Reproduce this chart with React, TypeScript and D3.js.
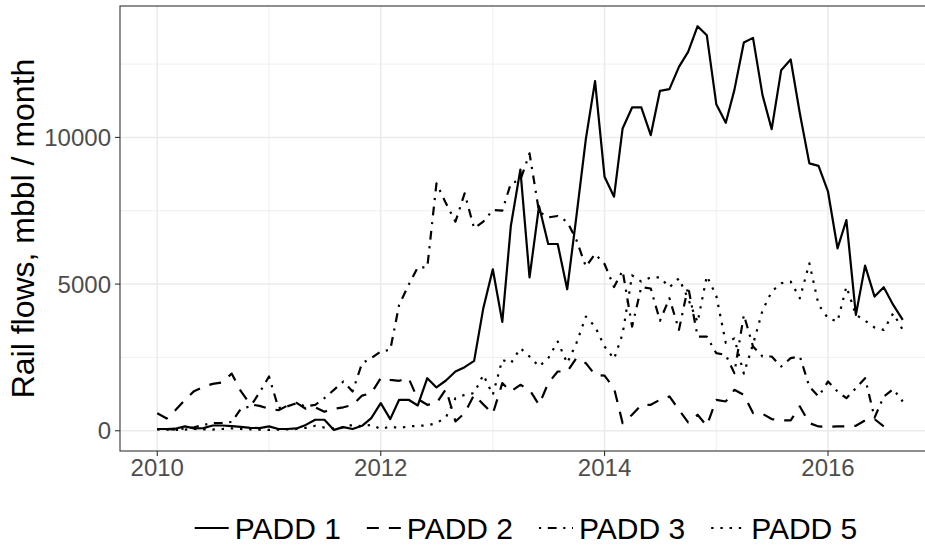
import React, { useEffect, useRef } from "react";
import * as d3 from "d3";

// monthly, Jan 2010 .. Sep 2016
const months = d3.timeMonth.range(new Date(2010, 0, 1), new Date(2016, 9, 1));

const padd1 = [
  60, 60, 70, 150, 80, 90, 180, 180, 160, 130, 100, 90,
  150, 60, 60, 80, 200, 375, 375, 30, 125, 60, 170, 431,
  942, 397, 1056, 1056, 863, 1793, 1476, 1714, 2020, 2168, 2384, 4180,
  5505, 3711, 6990, 8900, 5230, 7661, 6367, 6367, 4824, 7300, 9950, 11918,
  8660, 7979, 10306, 11021, 11021, 10079, 11589, 11645, 12406, 12916, 13790, 13484,
  11134, 10499, 11611, 13234, 13393, 11441, 10280, 12292, 12655, 10816, 9114, 9030,
  8149, 6220, 7184, 3950, 5630, 4574, 4892, 4290, 3780,
];

const padd2 = [
  600, 420, 700, 1050, 1350, 1500, 1600, 1650, 1950, 1350, 900, 850,
  750, 700, 850, 950, 750, 800, 650, 750, 800, 880, 1200, 1280,
  1793, 1737, 1703, 1793, 1078, 885, 942, 1419, 318, 602, 1226, 900,
  579, 1623, 1339, 1566, 1396, 885, 1623, 2020, 2020, 2474, 2304, 1907,
  1880, 1453, 261, 545, 885, 885, 1056, 1169, 715, 284, 545, 170,
  1056, 999, 1396, 1226, 602, 579, 400, 352, 352, 829, 261, 148,
  130, 148, 148, 170, 352, 397, 150,
];

const padd3 = [
  50, 60, 40, 80, 120, 200, 260, 270, 300, 750, 830, 1300,
  1850, 772, 828, 942, 828, 885, 1112, 1396, 1680, 1339, 2304, 2474,
  2701, 2758, 4290, 4971, 5573, 5573, 8433, 7752, 7128, 8093, 6900, 7128,
  7525, 7502, 8433, 8547, 9455, 7468, 7275, 7321, 7128, 6504, 5596, 6027,
  5686, 4900, 5459, 3553, 4900, 4850, 3750, 4517, 3439, 4915, 3212, 3212,
  2645, 2588, 1964, 3950, 2872, 2531, 2531, 2190, 2474, 2531, 1510, 1170,
  1680, 1339, 1112, 1453, 1793, 450, 1169, 1419, 999,
];

const padd5 = [
  50, 40, 30, 40, 60, 50, 40, 60, 80, 60, 50, 40,
  30, 40, 50, 60, 100, 170, 110, 80, 120, 200, 150, 204,
  57, 147, 91, 147, 170, 182, 261, 465, 1112, 1226, 1283, 1907,
  1226, 2418, 2304, 2815, 2531, 2191, 2474, 3042, 2304, 2985, 3893, 3553,
  2872, 2450, 3300, 5300, 5085, 5232, 5232, 4892, 5198, 4500, 3700, 5278,
  4600, 3000, 3150, 1950, 2950, 4100, 4744, 5028, 5085, 4517, 5709, 4300,
  3836, 3723, 4914, 3950, 3757, 3519, 3439, 4007, 3439,
];

const seriesNames = ["PADD 1", "PADD 2", "PADD 3", "PADD 5"];
const seriesValues = [padd1, padd2, padd3, padd5];
const dashes = ["none", "12 10", "2.2 6.6 8.8 6.6", "2.4 6.8"];

const yTicks = [0, 5000, 10000];
const yMinor = [2500, 7500, 12500];
const xTickYears = [2010, 2012, 2014, 2016];
const xMinorYears = [2011, 2013, 2015];

const FONT = "'Liberation Sans', Arial, sans-serif";

export default function App() {
  const ref = useRef<SVGSVGElement>(null);

  useEffect(() => {
    const svg = d3.select(ref.current);
    svg.selectAll("*").remove();

    const width = 925;
    const height = 555;
    const panel = { left: 120, top: 6, right: 940, bottom: 451 };

    const allVals = seriesValues.flat();
    const vmax = d3.max(allVals)!;
    const vmin = 0;
    const padY = (vmax - vmin) * 0.05;

    const t0 = months[0].getTime();
    const t1 = months[months.length - 1].getTime();
    const padX = (t1 - t0) * 0.05;

    const x = d3
      .scaleTime()
      .domain([new Date(t0 - padX), new Date(t1 + padX)])
      .range([panel.left, panel.right]);
    const y = d3
      .scaleLinear()
      .domain([vmin - padY, vmax + padY])
      .range([panel.bottom, panel.top]);

    svg.attr("width", width).attr("height", height);
    svg.append("rect").attr("width", width).attr("height", height).attr("fill", "#fff");

    // grid: minor first, then major
    const grid = svg.append("g");
    const hLine = (vals: number[], w: number) =>
      grid
        .selectAll(null)
        .data(vals)
        .enter()
        .append("line")
        .attr("x1", panel.left)
        .attr("x2", panel.right)
        .attr("y1", (d) => y(d))
        .attr("y2", (d) => y(d))
        .attr("stroke", "#ebebeb")
        .attr("stroke-width", w);
    const vLine = (years: number[], w: number) =>
      grid
        .selectAll(null)
        .data(years)
        .enter()
        .append("line")
        .attr("x1", (d) => x(new Date(d, 0, 1)))
        .attr("x2", (d) => x(new Date(d, 0, 1)))
        .attr("y1", panel.top)
        .attr("y2", panel.bottom)
        .attr("stroke", "#ebebeb")
        .attr("stroke-width", w);
    hLine(yMinor, 0.8);
    vLine(xMinorYears, 0.8);
    hLine(yTicks, 1.5);
    vLine(xTickYears, 1.5);

    // series
    const line = d3
      .line<number>()
      .x((_, i) => x(months[i]))
      .y((d) => y(d));

    seriesValues.forEach((vals, k) => {
      svg
        .append("path")
        .datum(vals)
        .attr("d", line)
        .attr("fill", "none")
        .attr("stroke", "#000")
        .attr("stroke-width", 2.2)
        .attr("stroke-linejoin", "round")
        .attr("stroke-dasharray", dashes[k]);
    });

    // panel border
    svg
      .append("rect")
      .attr("x", panel.left)
      .attr("y", panel.top)
      .attr("width", panel.right - panel.left)
      .attr("height", panel.bottom - panel.top)
      .attr("fill", "none")
      .attr("stroke", "#333")
      .attr("stroke-width", 1.1);

    // y axis
    const yAx = svg.append("g");
    yTicks.forEach((v) => {
      yAx
        .append("line")
        .attr("x1", panel.left - 5)
        .attr("x2", panel.left)
        .attr("y1", y(v))
        .attr("y2", y(v))
        .attr("stroke", "#333")
        .attr("stroke-width", 1.1);
      yAx
        .append("text")
        .attr("x", panel.left - 9)
        .attr("y", y(v))
        .attr("dy", "0.36em")
        .attr("text-anchor", "end")
        .attr("font-family", FONT)
        .attr("font-size", 24)
        .attr("fill", "#4d4d4d")
        .text(String(v));
    });

    // x axis
    const xAx = svg.append("g");
    xTickYears.forEach((yr) => {
      const px = x(new Date(yr, 0, 1));
      xAx
        .append("line")
        .attr("x1", px)
        .attr("x2", px)
        .attr("y1", panel.bottom)
        .attr("y2", panel.bottom + 5)
        .attr("stroke", "#333")
        .attr("stroke-width", 1.1);
      xAx
        .append("text")
        .attr("x", px)
        .attr("y", panel.bottom + 25)
        .attr("text-anchor", "middle")
        .attr("font-family", FONT)
        .attr("font-size", 24)
        .attr("fill", "#4d4d4d")
        .text(String(yr));
    });

    // y title
    svg
      .append("text")
      .attr("transform", `translate(34, ${(panel.top + panel.bottom) / 2}) rotate(-90)`)
      .attr("text-anchor", "middle")
      .attr("font-family", FONT)
      .attr("font-size", 32)
      .attr("fill", "#000")
      .text("Rail flows, mbbl / month");

    // legend
    const legend = svg.append("g");
    const keyW = 34;
    const legY = 528;
    const items = seriesNames.map((name, k) => {
      const g = legend.append("g");
      g.append("line")
        .attr("x1", 0)
        .attr("x2", keyW)
        .attr("y1", 0)
        .attr("y2", 0)
        .attr("stroke", "#000")
        .attr("stroke-width", 2.2)
        .attr("stroke-dasharray", dashes[k]);
      const txt = g
        .append("text")
        .attr("x", keyW + 6)
        .attr("y", 0)
        .attr("dy", "0.36em")
        .attr("font-family", FONT)
        .attr("font-size", 30)
        .attr("fill", "#000")
        .text(name);
      const w = (txt.node() as SVGTextElement).getComputedTextLength();
      return { g, w: keyW + 6 + w };
    });
    const gap = 26;
    const total = d3.sum(items, (d) => d.w) + gap * (items.length - 1);
    let cx = 526 - total / 2;
    items.forEach((it) => {
      it.g.attr("transform", `translate(${cx}, ${legY})`);
      cx += it.w + gap;
    });
  }, []);

  return (
    <svg
      ref={ref}
      style={{ position: "absolute", left: 0, top: 0, display: "block" }}
    />
  );
}
